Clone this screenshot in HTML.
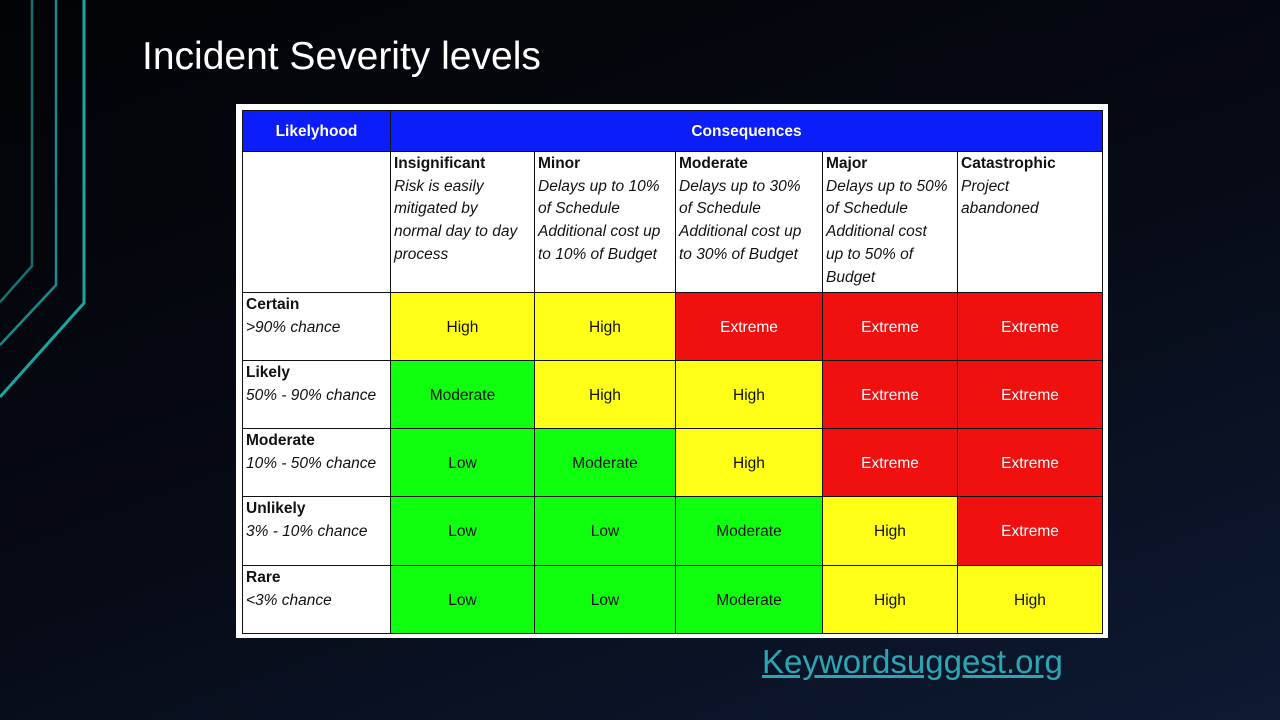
<!DOCTYPE html>
<html><head><meta charset="utf-8"><style>
body{margin:0;width:1280px;height:720px;overflow:hidden;background:linear-gradient(160deg,#020306 0%,#060a14 50%,#0e1a33 100%);font-family:"Liberation Sans",sans-serif;position:relative}
.t{position:absolute;left:142px;top:35px;color:#fff;font-size:39px}
.box{position:absolute;left:236px;top:104px;width:872px;height:534px;background:#fff}
.c{position:absolute;box-sizing:border-box;border:1px solid #111;font-size:15.5px;color:#111;line-height:22.7px;white-space:nowrap}
.ctr{display:flex;align-items:center;justify-content:center;padding-top:3px}
.hd{padding:1px 3px}
i{font-style:italic}
.y{background:#ffff18}.g{background:#0fff0f}.r{background:#f01010;color:#fff}
.bl{background:#0b1df9;color:#fff;font-weight:bold}
a{position:absolute;left:762px;top:643px;color:#2ba7b4;font-size:33px;text-decoration:underline}
</style></head><body>
<svg width="120" height="420" style="position:absolute;left:0;top:0">
<polyline points="32,0 32,266 0,302" fill="none" stroke="#16706f" stroke-width="2.5"/>
<polyline points="56,0 56,285 0,345" fill="none" stroke="#188a88" stroke-width="2.5"/>
<polyline points="84,0 84,303 0,397" fill="none" stroke="#1aa5a2" stroke-width="3"/>
</svg>
<div class="t">Incident Severity levels</div>
<div class="box"></div>
<div id="tb"></div>
<a>Keywordsuggest.org</a>
<script>
var xs=[242,390,534,675,822,957,1102],ys=[110,151,292,360,428,496,565,633];
var h='';
function cell(x1,x2,y1,y2,cls,html){h+='<div class="c '+cls+'" style="left:'+x1+'px;top:'+y1+'px;width:'+(x2-x1+1)+'px;height:'+(y2-y1+1)+'px">'+html+'</div>';}
cell(xs[0],xs[1],ys[0],ys[1],'bl ctr','Likelyhood');
cell(xs[1],xs[6],ys[0],ys[1],'bl ctr','Consequences');
cell(xs[0],xs[1],ys[1],ys[2],'','');
var hd=[['Insignificant','Risk is easily<br>mitigated by<br>normal day to day<br>process'],['Minor','Delays up to 10%<br>of Schedule<br>Additional cost up<br>to 10% of Budget'],['Moderate','Delays up to 30%<br>of Schedule<br>Additional cost up<br>to 30% of Budget'],['Major','Delays up to 50%<br>of Schedule<br>Additional cost<br>up to 50% of<br>Budget'],['Catastrophic','Project<br>abandoned']];
for(var i=0;i<5;i++)cell(xs[i+1],xs[i+2],ys[1],ys[2],'hd','<b>'+hd[i][0]+'</b><br><i>'+hd[i][1]+'</i>');
var rl=[['Certain','&gt;90% chance'],['Likely','50% - 90% chance'],['Moderate','10% - 50% chance'],['Unlikely','3% - 10% chance'],['Rare','&lt;3% chance']];
var M={H:['y','High'],E:['r','Extreme'],M:['g','Moderate'],L:['g','Low']};
var g=['HHEEE','MHHEE','LMHEE','LLMHE','LLMHH'];
for(var r=0;r<5;r++){cell(xs[0],xs[1],ys[r+2],ys[r+3],'hd','<b>'+rl[r][0]+'</b><br><i>'+rl[r][1]+'</i>');
for(var c=0;c<5;c++){var m=M[g[r][c]];cell(xs[c+1],xs[c+2],ys[r+2],ys[r+3],m[0]+' ctr',m[1]);}}
document.getElementById('tb').innerHTML=h;
</script>
</body></html>
